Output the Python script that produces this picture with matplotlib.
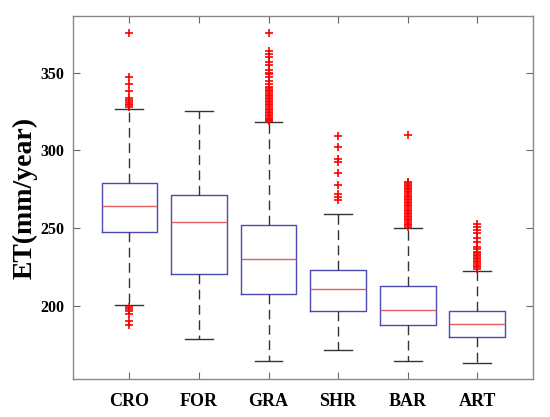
import matplotlib
matplotlib.use("Agg")
import matplotlib.pyplot as plt

plt.rcParams['font.family'] = ['Liberation Serif', 'DejaVu Serif']

classes = ["CRO", "FOR", "GRA", "SHR", "BAR", "ART"]
q1 = [247.7, 220.5, 207.8, 196.9, 187.7, 180.1]
med = [264.2, 253.7, 230.1, 211.2, 197.5, 188.1]
q3 = [279.2, 271.1, 252.0, 223.0, 213.0, 196.9]
whis_lo = [200.5, 178.6, 164.9, 171.8, 164.9, 163.1]
whis_hi = [326.6, 325.2, 318.3, 259.3, 250.3, 222.6]

out_cro = [375.5, 347, 343, 338, 334, 332.5, 331, 330, 329, 328,
           199, 198, 197, 195, 190, 188]
out_for = []
out_gra = [375.5, 364, 362, 360, 357, 355, 352, 350, 349, 347, 345, 343,
           341, 340, 339, 338, 337, 336, 335, 334, 333, 332, 331, 330,
           329, 328, 327, 326, 325, 324, 323, 322, 321, 320, 319.5, 319]
out_shr = [309, 302, 294.5, 292.5, 285.5, 278, 272, 270, 268]
out_bar = [309.7, 280, 279, 278, 277, 276, 275, 274, 273, 272, 271, 270,
           269, 268, 267, 266, 265, 264, 263, 262, 261, 260, 259, 258,
           257, 256, 255, 254, 253, 252, 251]
out_art = [252.6, 251, 249, 247, 244, 241, 238, 236.5, 235, 234, 233,
           232, 231, 230, 229, 228, 227, 226, 225, 224]
outliers = [out_cro, out_for, out_gra, out_shr, out_bar, out_art]

stats = []
for i, name in enumerate(classes):
    stats.append(dict(label=name, med=med[i], q1=q1[i], q3=q3[i],
                      whislo=whis_lo[i], whishi=whis_hi[i],
                      fliers=outliers[i]))

fig = plt.figure(figsize=(5.5, 4.17), dpi=100)
ax = fig.add_axes([0.1327, 0.0911, 0.8363, 0.8705])

pos = list(range(1, len(classes) + 1))
ax.bxp(stats, positions=pos, widths=0.8, capwidths=0.4,
       boxprops=dict(color='#4a4ab0', linewidth=1.0),
       medianprops=dict(color='#e06060', linewidth=1.0),
       whiskerprops=dict(color='#333333', linewidth=1.0, linestyle=(0, (7, 4))),
       capprops=dict(color='#333333', linewidth=1.0),
       flierprops=dict(marker='+', markeredgecolor='red', markersize=6,
                       markeredgewidth=1.2, linestyle='none'))

ax.set_xlim(0.19, 6.8)
ax.set_ylim(153, 386.5)
ax.set_yticks([200, 250, 300, 350])
ax.set_xticks(pos)
ax.set_xticklabels(classes, fontsize=13, fontweight='bold')
for t in ax.get_yticklabels():
    t.set_fontsize(11.5)
    t.set_fontweight('bold')

ax.tick_params(direction='in', length=5, color='#666666', top=True, right=True,
               width=0.8)
ax.tick_params(axis='x', pad=10)
ax.tick_params(axis='y', pad=6)
for s in ax.spines.values():
    s.set_color('#888888')
    s.set_linewidth(1.0)

ax.set_ylabel("ET(mm/year)", fontsize=20, fontweight='bold', labelpad=2)

fig.savefig("out.png", dpi=100)
